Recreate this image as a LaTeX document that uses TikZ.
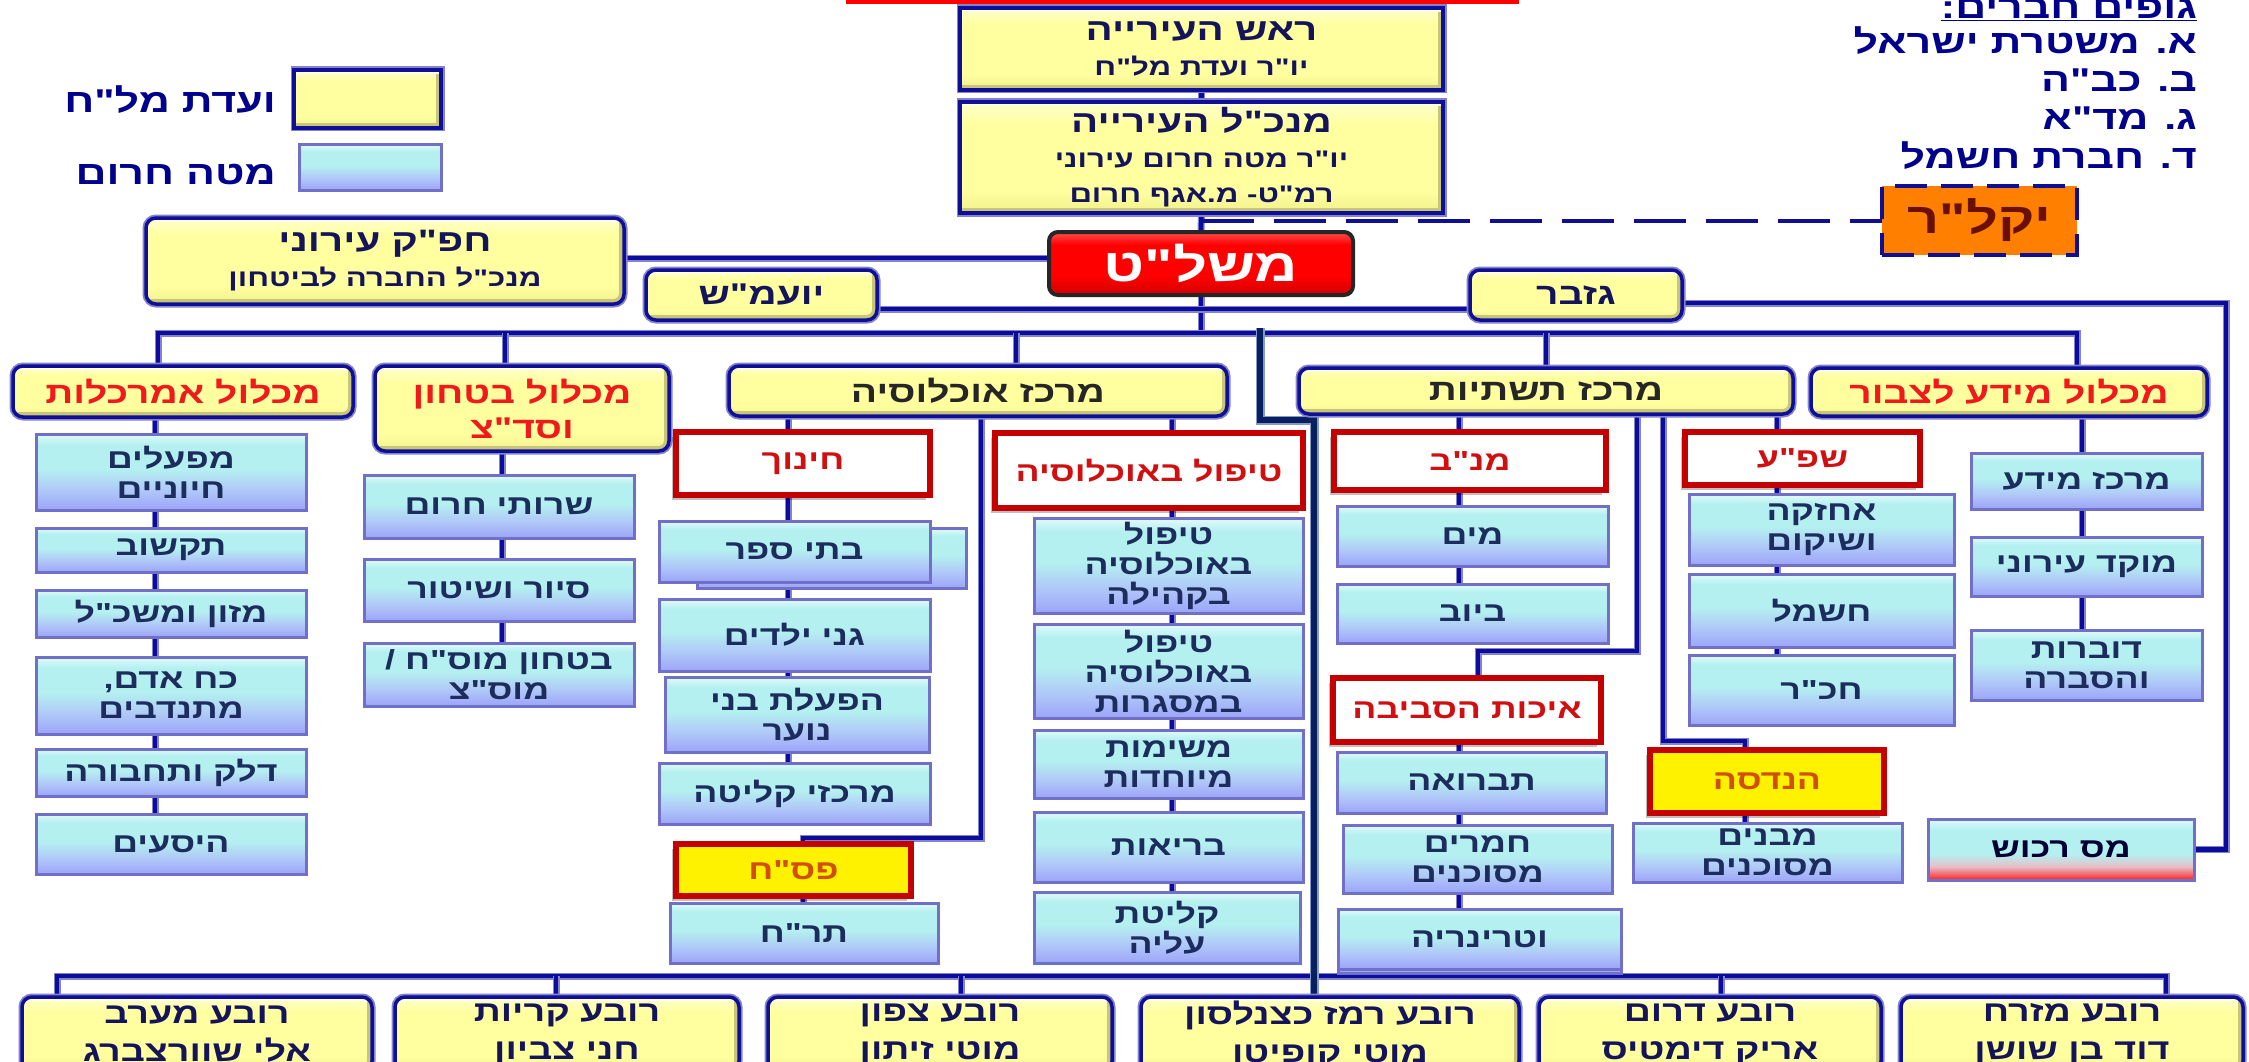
\documentclass[tikz,border=0pt]{standalone}
\usepackage{fontspec}
\usetikzlibrary{shadows}
\TeXXeTstate=1
\newfontfamily\hebf[Script=Hebrew,FakeStretch=1.3]{Liberation Sans}
\newcommand\hb[1]{\beginR #1\endR}
\newcommand\fsBlue{\fontsize{27.5pt}{30pt}\selectfont}
\newcommand\fsHdr{\fontsize{30pt}{35pt}\selectfont}
\newcommand\fsSub{\fontsize{24pt}{28pt}\selectfont}
\newcommand\fsBig{\fontsize{31pt}{34pt}\selectfont}
\newcommand\fsList{\fontsize{33pt}{38pt}\selectfont}
\newcommand\fsQ{\fontsize{29pt}{38pt}\selectfont}
\newcommand\fsMesh{\fontsize{46pt}{50pt}\selectfont}
\newcommand\fsYak{\fontsize{43pt}{48pt}\selectfont}
\newcommand\bx[7]{\node[#1,anchor=north west,minimum width={(#5-#3)*1pt},minimum height={(#6-#4)*1pt}] (#2) at (#3,#4) {#7};}

\definecolor{bnavy}{RGB}{14,14,150}
\definecolor{halo}{RGB}{130,130,205}
\definecolor{cnavy}{RGB}{12,12,156}
\definecolor{cdark}{RGB}{8,32,96}
\definecolor{dhalo}{RGB}{136,152,200}
\definecolor{ytop}{RGB}{255,255,205}
\definecolor{ymid}{RGB}{255,255,160}
\definecolor{ybot}{RGB}{240,240,140}
\definecolor{bevlo}{RGB}{200,196,120}
\definecolor{bevhi}{RGB}{255,255,220}
\definecolor{btop}{RGB}{228,250,250}
\definecolor{bmid}{RGB}{180,240,240}
\definecolor{blow}{RGB}{176,200,248}
\definecolor{bbot}{RGB}{156,164,248}
\definecolor{bbord}{RGB}{112,112,200}
\definecolor{btext}{RGB}{28,44,92}
\definecolor{ytext}{RGB}{20,20,90}
\definecolor{hred}{RGB}{240,26,26}
\definecolor{rbord}{RGB}{196,0,0}
\definecolor{rtext}{RGB}{208,16,16}
\definecolor{otext}{RGB}{208,80,0}
\definecolor{mtop}{RGB}{255,80,80}
\definecolor{mmid}{RGB}{255,0,0}
\definecolor{mbot}{RGB}{210,0,0}
\definecolor{yakfill}{RGB}{255,128,0}
\definecolor{yaktext}{RGB}{106,16,0}
\definecolor{masred}{RGB}{255,32,32}
\definecolor{maspink}{RGB}{232,190,200}
\definecolor{legtext}{RGB}{0,0,140}
\definecolor{redbar}{RGB}{255,0,0}

\pgfdeclareverticalshading{yelshade}{100bp}{color(0bp)=(ybot); color(25bp)=(ybot); color(35bp)=(ymid); color(65bp)=(ymid); color(75bp)=(ytop); color(100bp)=(ytop)}
\pgfdeclareverticalshading{blueshade}{100bp}{color(0bp)=(bbot); color(25bp)=(bbot); color(38bp)=(blow); color(52bp)=(bmid); color(68bp)=(bmid); color(75bp)=(btop); color(100bp)=(btop)}
\pgfdeclareverticalshading{meshshade}{100bp}{color(0bp)=(mbot); color(25bp)=(mbot); color(40bp)=(mmid); color(65bp)=(mmid); color(75bp)=(mtop); color(100bp)=(mtop)}
\pgfdeclareverticalshading{masshade}{100bp}{color(0bp)=(masred); color(25bp)=(masred); color(36bp)=(maspink); color(46bp)=(bmid); color(66bp)=(bmid); color(75bp)=(btop); color(100bp)=(btop)}

\pgfdeclarelayer{bg}
\pgfsetlayers{bg,main}

\tikzset{
  boxbase/.style={align=center,inner sep=0pt,outer sep=0pt},
  ybox/.style={boxbase,shading=yelshade,draw=bnavy,line width=3.5pt,rounded corners=10pt,
    preaction={draw=halo,line width=7pt},text=ytext,font=\hebf\bfseries\fsHdr,
    path picture={
      \draw[line width=10pt,bevlo] (path picture bounding box.south west) -- (path picture bounding box.south east) -- (path picture bounding box.north east);
      \draw[line width=8pt,bevhi] (path picture bounding box.north west) -- (path picture bounding box.north east);}},
  ysq/.style={ybox,rounded corners=0pt},
  redt/.style={text=hred},
  blackt/.style={text=black!85},
  bbox/.style={boxbase,shading=blueshade,draw=bbord,line width=3pt,text=btext,font=\hebf\bfseries\fsBlue},
  rbox/.style={boxbase,fill=white,draw=rbord,line width=6pt,text=rtext,font=\hebf\bfseries\fsBlue,
    drop shadow={shadow xshift=-4pt,shadow yshift=-5pt,fill=black,opacity=0.25}},
  yrbox/.style={rbox,fill=yellow,text=otext},
  mbox/.style={boxbase,shading=meshshade,draw=black!85,line width=4pt,rounded corners=9pt,text=white,font=\hebf\bfseries\fsMesh},
  yakbox/.style={boxbase,fill=yakfill,draw=bnavy,line width=3.5pt,dash pattern=on 32pt off 14pt,text=yaktext,font=\hebf\bfseries\fsYak},
  masbox/.style={bbox,shading=masshade,text=black!80!blue},
  qbox/.style={ybox,font=\hebf\bfseries\fsQ},
  legtxt/.style={inner sep=0pt,text=legtext,font=\hebf\bfseries\fsList},
  conn/.style={draw=cnavy,line width=4.5pt,preaction={draw=halo,line width=7pt}},
  darkconn/.style={draw=cdark,line width=5.5pt,preaction={draw=dhalo,line width=9pt}},
  dashline/.style={draw=bnavy,line width=4pt,dash pattern=on 52pt off 20pt}
}

\begin{document}
\begin{tikzpicture}[x=1pt,y=-1pt]
\useasboundingbox (0,0) rectangle (2249,1062);
\clip (0,0) rectangle (2249,1062);
\fill[redbar] (846,0) rectangle (1519,4);

% legend
\bx{ysq}{legY}{294}{70}{441}{128}{}
\bx{bbox}{legB}{299}{145}{441}{190}{}
\node[legtxt,anchor=base east] (legYt) at (276,113) {\hb{ועדת מל"ח}};
\node[legtxt,anchor=base east] (legBt) at (276,184) {\hb{מטה חרום}};

% member bodies
\node[legtxt,anchor=base east] (lt0) at (2197,19) {\underline{\hb{גופים חברים:}}};
\node[legtxt,anchor=base east] (lt1) at (2197,54) {\hb{א. משטרת ישראל}};
\node[legtxt,anchor=base east] (lt2) at (2197,92) {\hb{ב. כב"ה}};
\node[legtxt,anchor=base east] (lt3) at (2197,130) {\hb{ג. מד"א}};
\node[legtxt,anchor=base east] (lt4) at (2197,168) {\hb{ד. חברת חשמל}};

% top chain
\bx{ysq}{rosh}{960}{8}{1443}{90}{{\fsBig\hb{ראש העירייה}}\\{\fsSub\hb{יו"ר ועדת מל"ח}}}
\bx{ysq}{mankal}{960}{102}{1443}{213}{{\fsBig\hb{מנכ"ל העירייה}}\\{\fsSub\hb{יו"ר מטה חרום עירוני}}\\{\fsSub\hb{רמ"ט- מ.אגף חרום}}}
\bx{mbox}{meshlat}{1049}{232}{1353}{295}{\hb{משל"ט}}
\bx{ybox}{hafak}{146}{218}{624}{304}{{\fsBig\hb{חפ"ק עירוני}}\\{\fsSub\hb{מנכ"ל החברה לביטחון}}}
\bx{ybox}{yoamash}{646}{270}{877}{320}{\hb{יועמ"ש}}
\bx{ybox}{gizbar}{1470}{270}{1682}{320}{\hb{גזבר}}
\bx{yakbox}{yakar}{1882}{186}{2077}{255}{\hb{יקל"ר}}

% headers
\bx{ybox,redt}{h1}{13}{366}{353}{417}{\hb{מכלול אמרכלות}}
\bx{ybox,redt}{h2}{375}{366}{669}{451}{\hb{מכלול בטחון}\\\hb{וסד"צ}}
\bx{ybox,blackt}{h3}{729}{366}{1227}{416}{\hb{מרכז אוכלוסיה}}
\bx{ybox,blackt}{h4}{1299}{368}{1793}{414}{\hb{מרכז תשתיות}}
\bx{ybox,redt}{h5}{1811}{368}{2207}{416}{\hb{מכלול מידע לצבור}}

% column 1
\bx{bbox}{a1}{36}{434}{306}{510}{\hb{מפעלים}\\\hb{חיוניים}}
\bx{bbox}{a2}{36}{528}{306}{572}{\hb{תקשוב}}
\bx{bbox}{a3}{36}{590}{306}{637}{\hb{מזון ומשכ"ל}}
\bx{bbox}{a4}{36}{657}{306}{734}{\hb{כח אדם,}\\\hb{מתנדבים}}
\bx{bbox}{a5}{36}{749}{306}{796}{\hb{דלק ותחבורה}}
\bx{bbox}{a6}{36}{814}{306}{874}{\hb{היסעים}}

% column 2
\bx{bbox}{b1}{364}{475}{634}{538}{\hb{שרותי חרום}}
\bx{bbox}{b2}{364}{559}{634}{621}{\hb{סיור ושיטור}}
\bx{bbox}{b3}{364}{643}{634}{706}{\hb{בטחון מוס"ח /}\\\hb{מוס"צ}}

% column 3
\bx{rbox}{chinuch}{676}{432}{930}{495}{\hb{חינוך}}
\bx{bbox}{c1b}{697}{528}{966}{588}{}
\bx{bbox}{c1}{659}{521}{930}{582}{\hb{בתי ספר}}
\bx{bbox}{c2}{659}{599}{930}{671}{\hb{גני ילדים}}
\bx{bbox}{c3}{665}{677}{929}{752}{\hb{הפעלת בני}\\\hb{נוער}}
\bx{bbox}{c4}{659}{763}{930}{824}{\hb{מרכזי קליטה}}
\bx{yrbox}{pasach}{676}{844}{911}{896}{\hb{פס"ח}}
\bx{bbox}{c5}{670}{903}{938}{963}{\hb{תר"ח}}

% column 4
\bx{rbox}{tipul}{995}{433}{1303}{508}{\hb{טיפול באוכלוסיה}}
\bx{bbox}{d1}{1034}{518}{1303}{613}{\hb{טיפול}\\\hb{באוכלוסיה}\\\hb{בקהילה}}
\bx{bbox}{d2}{1034}{624}{1303}{718}{\hb{טיפול}\\\hb{באוכלוסיה}\\\hb{במסגרות}}
\bx{bbox}{d3}{1034}{730}{1303}{798}{\hb{משימות}\\\hb{מיוחדות}}
\bx{bbox}{d4}{1034}{812}{1303}{882}{\hb{בריאות}}
\bx{bbox}{d5}{1034}{892}{1300}{963}{\hb{קליטת}\\\hb{עליה}}

% column 5
\bx{rbox}{manab}{1334}{432}{1606}{490}{\hb{מנ"ב}}
\bx{bbox}{e1}{1337}{506}{1608}{566}{\hb{מים}}
\bx{bbox}{e2}{1337}{584}{1608}{643}{\hb{ביוב}}
\bx{rbox}{eichut}{1333}{678}{1601}{742}{\hb{איכות הסביבה}}
\bx{bbox}{f1}{1337}{752}{1606}{813}{\hb{תברואה}}
\bx{bbox}{f2}{1343}{825}{1612}{893}{\hb{חמרים}\\\hb{מסוכנים}}
\bx{bbox}{f3b}{1338}{913}{1621}{973}{}
\bx{bbox}{f3}{1338}{909}{1621}{969}{\hb{וטרינריה}}

% column 6
\bx{rbox}{shefa}{1685}{432}{1920}{485}{\hb{שפ"ע}}
\bx{bbox}{g1}{1689}{494}{1954}{565}{\hb{אחזקה}\\\hb{ושיקום}}
\bx{bbox}{g2}{1689}{574}{1954}{647}{\hb{חשמל}}
\bx{bbox}{g3}{1689}{655}{1954}{725}{\hb{חכ"ר}}
\bx{yrbox}{handasa}{1650}{750}{1884}{813}{\hb{הנדסה}}
\bx{bbox}{g4}{1633}{823}{1902}{882}{\hb{מבנים}\\\hb{מסוכנים}}

% column 7
\bx{bbox}{i1}{1971}{453}{2202}{509}{\hb{מרכז מידע}}
\bx{bbox}{i2}{1971}{537}{2202}{596}{\hb{מוקד עירוני}}
\bx{bbox}{i3}{1971}{630}{2202}{700}{\hb{דוברות}\\\hb{והסברה}}
\bx{masbox}{mas}{1928}{819}{2194}{880}{\hb{מס רכוש}}

% quarters
\bx{qbox}{q1}{22}{997}{372}{1071}{\hb{רובע מערב}\\\hb{אלי שוורצברג}}
\bx{qbox}{q2}{395}{997}{739}{1071}{\hb{רובע קריות}\\\hb{חני צביון}}
\bx{qbox}{q3}{768}{997}{1112}{1071}{\hb{רובע צפון}\\\hb{מוטי זיתון}}
\bx{qbox}{q4}{1141}{997}{1519}{1071}{\hb{רובע רמז כצנלסון}\\\hb{מוטי קופיטו}}
\bx{qbox}{q5}{1539}{997}{1881}{1071}{\hb{רובע דרום}\\\hb{אריק דימטיס}}
\bx{qbox}{q6}{1901}{997}{2243}{1071}{\hb{רובע מזרח}\\\hb{דוד בן שושן}}

% helper coordinates
\coordinate (bus) at (0,333);
\coordinate (v1) at (158,0); \coordinate (v2) at (505,0); \coordinate (v3) at (1016,0);
\coordinate (v4) at (1546,0); \coordinate (v5) at (2077,0);
\coordinate (hafy) at (0,258); \coordinate (yg) at (0,309);
\coordinate (gzy) at (0,303); \coordinate (gzx) at (2226,0);
\coordinate (t1top) at (1260,328); \coordinate (tbend) at (1314,420);
\coordinate (qbus) at (0,976);
\coordinate (qv1) at (57,0); \coordinate (qv2) at (556,0); \coordinate (qv3) at (961,0);
\coordinate (qv5) at (1721,0); \coordinate (qv6) at (2166,0);
\coordinate (k1) at (155,0); \coordinate (k2) at (502,0); \coordinate (k3) at (788,0);
\coordinate (k3b) at (981,0); \coordinate (pbend) at (803,838); \coordinate (k4) at (1172,0);
\coordinate (k5) at (1459,0); \coordinate (k5b) at (1637,0); \coordinate (ebend) at (1478,651);
\coordinate (k6) at (1777,0); \coordinate (k6b) at (1663,0); \coordinate (hbend) at (1745,741);
\coordinate (k7) at (2082,0);

\begin{pgfonlayer}{bg}
\draw[conn] (rosh.south) -- (mankal.north);
\draw[conn] (mankal.south) -- (meshlat.north);
\draw[conn] (meshlat.south) -- (meshlat.south |- bus);
\draw[dashline] (mankal.south |- yakar.west) -- (yakar.west);
\draw[conn] (hafak.east |- hafy) -- (meshlat.west |- hafy);
\draw[conn] (yoamash.east |- yg) -- (gizbar.west |- yg);
\draw[conn] (gizbar.east |- gzy) -| (gzx |- mas.east) -- (mas.east);
\draw[conn] (h1.north -| v1) |- (bus -| v5) -- (h5.north -| v5);
\draw[conn] (bus -| v2) -- (h2.north -| v2);
\draw[conn] (bus -| v3) -- (h3.north -| v3);
\draw[conn] (bus -| v4) -- (h4.north -| v4);
\draw[conn] (q1.north -| qv1) |- (qbus -| qv6) -- (q6.north -| qv6);
\draw[conn] (qbus -| qv2) -- (q2.north -| qv2);
\draw[conn] (qbus -| qv3) -- (q3.north -| qv3);
\draw[conn] (qbus -| qv5) -- (q5.north -| qv5);
\draw[darkconn] (t1top) |- (tbend) -- (tbend |- q4.north);
\draw[conn] (h1.south -| k1) -- (a6.north -| k1);
\draw[conn] (h2.south -| k2) -- (b3.north -| k2);
\draw[conn] (h3.south -| k3) -- (c4.north -| k3);
\draw[conn] (h3.south -| k3b) |- (pbend) -- (pbend |- pasach.north);
\draw[conn] (pasach.south -| pbend) -- (c5.north -| pbend);
\draw[conn] (h3.south -| k4) -- (d5.north -| k4);
\draw[conn] (h4.south -| k5) -- (e2.north -| k5);
\draw[conn] (h4.south -| k5b) |- (ebend) -- (ebend |- eichut.north);
\draw[conn] (eichut.south -| k5) -- (f3.north -| k5);
\draw[conn] (h4.south -| k6) -- (g3.north -| k6);
\draw[conn] (h4.south -| k6b) |- (hbend) -- (hbend |- handasa.north);
\draw[conn] (handasa.south -| hbend) -- (g4.north -| hbend);
\draw[conn] (h5.south -| k7) -- (i3.north -| k7);
\end{pgfonlayer}
\end{tikzpicture}
\end{document}
